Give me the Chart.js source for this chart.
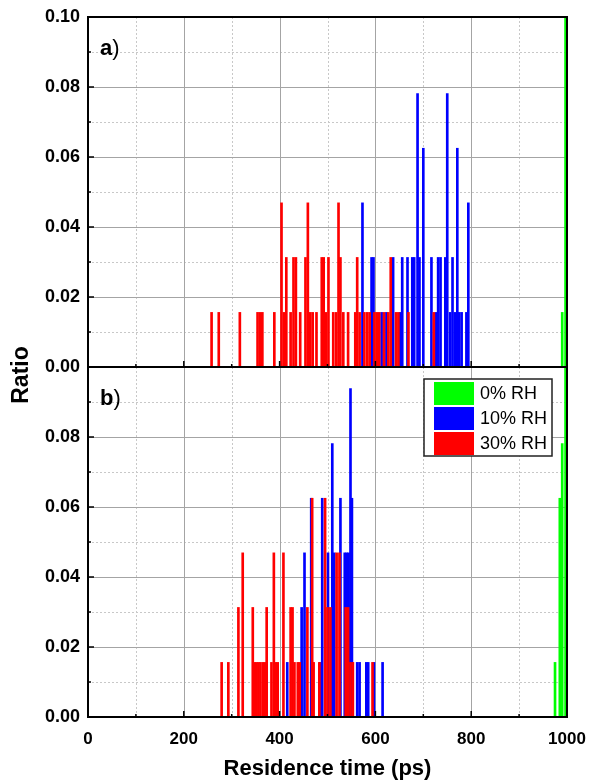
<!DOCTYPE html>
<html><head><meta charset="utf-8">
<script src="https://cdn.jsdelivr.net/npm/chart.js@4.4.0/dist/chart.umd.min.js"></script>
<style>
html,body{margin:0;padding:0;background:#fff;}
#wrap{position:relative;width:590px;height:784px;}
canvas{position:absolute;left:0;top:0;}
</style></head><body>
<div id="wrap"><canvas id="cTop" width="590" height="784"></canvas><canvas id="cBot" width="590" height="784"></canvas></div>
<script>
// ---- data (residence time in ps, ratio) ----
const seriesNames = ['0% RH', '10% RH', '30% RH'];
const xTickLabels = [0, 200, 400, 600, 800, 1000];
const yTickLabels = [0.00, 0.02, 0.04, 0.06, 0.08, 0.10];

// panel a
const aGreenX = [990, 997];
const aGreenY = [0.0156, 0.1000];
const aBlueX = [573, 592, 596, 613, 623, 637, 652, 656, 667, 677, 681, 688, 692, 700, 717, 727, 731, 736, 746, 750, 756, 761, 766, 771, 775, 780, 790, 794];
const aBlueY = [0.0469, 0.0313, 0.0313, 0.0156, 0.0156, 0.0313, 0.0156, 0.0313, 0.0313, 0.0313, 0.0313, 0.0781, 0.0313, 0.0625, 0.0313, 0.0156, 0.0313, 0.0313, 0.0313, 0.0781, 0.0156, 0.0313, 0.0156, 0.0625, 0.0156, 0.0156, 0.0156, 0.0469];
const aRedX = [258, 273, 317, 354, 359, 364, 389, 404, 409, 414, 423, 429, 434, 443, 454, 459, 464, 469, 477, 488, 492, 497, 502, 512, 518, 523, 527, 533, 543, 558, 562, 567, 577, 583, 588, 598, 603, 608, 618, 627, 632, 643, 648, 669, 722];
const aRedY = [0.0156, 0.0156, 0.0156, 0.0156, 0.0156, 0.0156, 0.0156, 0.0469, 0.0156, 0.0313, 0.0156, 0.0313, 0.0313, 0.0156, 0.0313, 0.0469, 0.0156, 0.0156, 0.0156, 0.0313, 0.0313, 0.0156, 0.0313, 0.0156, 0.0156, 0.0469, 0.0313, 0.0156, 0.0156, 0.0156, 0.0313, 0.0156, 0.0156, 0.0156, 0.0156, 0.0156, 0.0156, 0.0156, 0.0156, 0.0156, 0.0313, 0.0156, 0.0156, 0.0156, 0.0156];

// panel b
const bGreenX = [975, 985, 990, 997];
const bGreenY = [0.0156, 0.0625, 0.0781, 0.1000];
const bBlueX = [416, 446, 452, 466, 485, 489, 501, 510, 514, 527, 536, 540, 544, 548, 551, 562, 567, 581, 585, 597, 615];
const bBlueY = [0.0156, 0.0313, 0.0469, 0.0625, 0.0156, 0.0625, 0.0469, 0.0781, 0.0469, 0.0625, 0.0469, 0.0469, 0.0469, 0.0938, 0.0625, 0.0156, 0.0156, 0.0156, 0.0156, 0.0156, 0.0156];
const bRedX = [279, 293, 314, 323, 344, 348, 352, 356, 360, 365, 369, 373, 383, 388, 392, 396, 408, 423, 427, 431, 438, 442, 458, 468, 471, 483, 495, 500, 506, 519, 525, 538, 543, 548, 553, 594];
const bRedY = [0.0156, 0.0156, 0.0313, 0.0469, 0.0313, 0.0156, 0.0156, 0.0156, 0.0156, 0.0156, 0.0156, 0.0313, 0.0156, 0.0469, 0.0156, 0.0156, 0.0469, 0.0313, 0.0313, 0.0156, 0.0156, 0.0156, 0.0313, 0.0625, 0.0156, 0.0156, 0.0625, 0.0313, 0.0313, 0.0469, 0.0469, 0.0313, 0.0313, 0.0156, 0.0156, 0.0156];

const colors = ['#00ff00', '#0000ff', '#ff0000'];
const FONT = "'Liberation Sans', Arial, sans-serif";

function pts(xs, ys) { return xs.map((x, i) => ({x: x, y: ys[i]})); }

const panelPlugin = {
  id: 'panel',
  beforeDatasetsDraw(chart) {
    const {ctx, chartArea: a, scales: {x, y}} = chart;
    const xt = x.ticks.map(t => t.value), yt = y.ticks.map(t => t.value);
    ctx.save();
    ctx.lineWidth = 1;
    ctx.strokeStyle = '#c8c8c8';
    ctx.setLineDash([2, 2]);
    for (let i = 0; i < xt.length - 1; i++) {
      const px = Math.round(x.getPixelForValue((xt[i] + xt[i + 1]) / 2)) + 0.5;
      ctx.beginPath(); ctx.moveTo(px, a.top); ctx.lineTo(px, a.bottom); ctx.stroke();
    }
    for (let i = 0; i < yt.length - 1; i++) {
      const py = Math.round(y.getPixelForValue((yt[i] + yt[i + 1]) / 2)) + 0.5;
      ctx.beginPath(); ctx.moveTo(a.left, py); ctx.lineTo(a.right, py); ctx.stroke();
    }
    ctx.setLineDash([]);
    ctx.strokeStyle = '#a4a4a4';
    for (let i = 1; i < xt.length - 1; i++) {
      const px = Math.round(x.getPixelForValue(xt[i])) + 0.5;
      ctx.beginPath(); ctx.moveTo(px, a.top); ctx.lineTo(px, a.bottom); ctx.stroke();
    }
    for (let i = 1; i < yt.length - 1; i++) {
      const py = Math.round(y.getPixelForValue(yt[i])) + 0.5;
      ctx.beginPath(); ctx.moveTo(a.left, py); ctx.lineTo(a.right, py); ctx.stroke();
    }
    ctx.restore();
  },
  afterDatasetsDraw(chart, args, opts) {
    const {ctx, chartArea: a, scales: {x, y}} = chart;
    const xt = x.ticks.map(t => t.value), yt = y.ticks.map(t => t.value);
    ctx.save();
    ctx.strokeStyle = '#000';
    ctx.lineWidth = 1.5;
    for (let i = 0; i < xt.length; i++) {
      const px = x.getPixelForValue(xt[i]);
      ctx.beginPath(); ctx.moveTo(px, a.bottom); ctx.lineTo(px, a.bottom - 6); ctx.stroke();
      if (i < xt.length - 1) {
        const pm = x.getPixelForValue((xt[i] + xt[i + 1]) / 2);
        ctx.beginPath(); ctx.moveTo(pm, a.bottom); ctx.lineTo(pm, a.bottom - 3); ctx.stroke();
      }
    }
    for (let i = 0; i < yt.length; i++) {
      const py = y.getPixelForValue(yt[i]);
      ctx.beginPath(); ctx.moveTo(a.left, py); ctx.lineTo(a.left + 6, py); ctx.stroke();
      if (i < yt.length - 1) {
        const pm = y.getPixelForValue((yt[i] + yt[i + 1]) / 2);
        ctx.beginPath(); ctx.moveTo(a.left, pm); ctx.lineTo(a.left + 3, pm); ctx.stroke();
      }
    }
    ctx.lineWidth = 2;
    ctx.strokeRect(a.left, a.top, a.right - a.left, a.bottom - a.top);
    ctx.fillStyle = '#000';
    ctx.textBaseline = 'alphabetic';
    ctx.font = 'bold 22px ' + FONT;
    ctx.fillText(opts.label, a.left + 12, a.top + 38);
    const w = ctx.measureText(opts.label).width;
    ctx.font = '22px ' + FONT;
    ctx.fillText(')', a.left + 12 + w, a.top + 38);
    if (opts.ratio) {
      ctx.save();
      ctx.translate(22, 375);
      ctx.rotate(-Math.PI / 2);
      ctx.font = 'bold 23px ' + FONT;
      ctx.textAlign = 'center';
      ctx.textBaseline = 'middle';
      ctx.fillText('Ratio', 0, 0);
      ctx.restore();
    }
    if (opts.legend) {
      const lx = 424, ly = 379, lw = 128, lh = 77;
      ctx.fillStyle = '#fff';
      ctx.fillRect(lx, ly, lw, lh);
      ctx.lineWidth = 1.5;
      ctx.strokeStyle = '#222';
      ctx.strokeRect(lx, ly, lw, lh);
      ctx.font = '18px ' + FONT;
      ctx.textBaseline = 'middle';
      for (let i = 0; i < seriesNames.length; i++) {
        const ry = ly + 3 + i * 25;
        ctx.fillStyle = colors[i];
        ctx.fillRect(lx + 10, ry, 40, 23);
        ctx.fillStyle = '#000';
        ctx.fillText(seriesNames[i], lx + 56, ry + 12.5);
      }
    }
    ctx.restore();
  }
};

function makeChart(id, data3, isTop) {
  const ds = [
    {label: seriesNames[2], data: pts(data3[2][0], data3[2][1]), backgroundColor: colors[2]},
    {label: seriesNames[1], data: pts(data3[1][0], data3[1][1]), backgroundColor: colors[1]},
    {label: seriesNames[0], data: pts(data3[0][0], data3[0][1]), backgroundColor: colors[0]}
  ];
  return new Chart(document.getElementById(id), {
    type: 'bar',
    data: {datasets: ds},
    plugins: [panelPlugin],
    options: {
      responsive: false,
      animation: false,
      events: [],
      layout: {padding: isTop ? {top: 17, right: 23, bottom: 784 - 367, left: 0} : {top: 367, right: 23, bottom: 0, left: 0}},
      datasets: {bar: {grouped: false, barThickness: 2, borderWidth: 0}},
      plugins: {
        legend: {display: false},
        tooltip: {enabled: false},
        panel: {label: isTop ? 'a' : 'b', ratio: isTop, legend: !isTop}
      },
      scales: {
        x: {
          type: 'linear', min: xTickLabels[0], max: xTickLabels[xTickLabels.length - 1], offset: false,
          grid: {display: false, drawTicks: false, offset: false},
          border: {display: false},
          ticks: {
            display: !isTop, stepSize: 200, padding: 12, color: '#000',
            font: {family: FONT, size: 17, weight: 'bold'},
            maxRotation: 0, autoSkip: false,
            callback: v => String(v)
          },
          title: {
            display: !isTop, text: 'Residence time (ps)', color: '#000',
            font: {family: FONT, size: 22, weight: 'bold'}, padding: {top: 0, bottom: 2}
          },
          afterFit: s => { s.height = isTop ? 0 : 784 - 717; s.paddingLeft = 0; s.paddingRight = 0; }
        },
        y: {
          type: 'linear', min: yTickLabels[0], max: yTickLabels[yTickLabels.length - 1],
          grid: {display: false, drawTicks: false},
          border: {display: false},
          ticks: {
            stepSize: 0.02, padding: 8, color: '#000',
            font: {family: FONT, size: 18, weight: 'bold'},
            callback: v => (!isTop && v > 0.099) ? '' : Number(v).toFixed(2)
          },
          afterFit: s => { s.width = 88; s.paddingTop = 0; s.paddingBottom = 0; }
        }
      }
    }
  });
}

makeChart('cTop', [[aGreenX, aGreenY], [aBlueX, aBlueY], [aRedX, aRedY]], true);
makeChart('cBot', [[bGreenX, bGreenY], [bBlueX, bBlueY], [bRedX, bRedY]], false);
</script>
</body></html>
